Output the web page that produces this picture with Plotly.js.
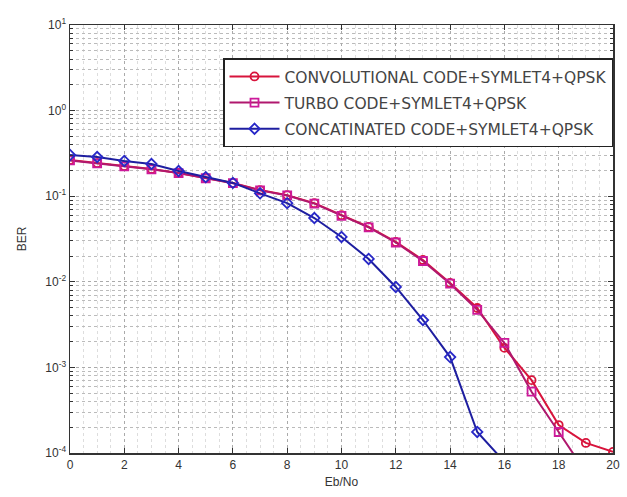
<!DOCTYPE html>
<html>
<head>
<meta charset="utf-8">
<script src="https://cdn.plot.ly/plotly-3.0.1.min.js"></script>
<style>html,body{margin:0;padding:0;background:#fff;}#chart{width:627px;height:497px;}</style>
</head>
<body>
<div id="chart"></div>
<script>
const ebno = [0,1,2,3,4,5,6,7,8,9,10,11,12,13,14,15,16,17,18,19,20];
const convBER = [0.265,0.244,0.225,0.208,0.187,0.163,0.143,0.118,0.103,0.083,0.060,0.0437,0.0292,0.018,0.0097,0.00494,0.00169,0.00071,0.000212,0.000131,0.000103];
const turboBER = [0.262,0.242,0.223,0.206,0.186,0.162,0.142,0.117,0.102,0.082,0.059,0.0432,0.0288,0.0175,0.0095,0.0047,0.00193,0.00052,0.000176,0.000057,0.00002];
const concatX = [0,1,2,3,4,5,6,7,8,9,10,11,12,13,14,15,16];
const concatBER = [0.303,0.287,0.258,0.238,0.197,0.167,0.143,0.108,0.083,0.0556,0.0334,0.0185,0.0087,0.00358,0.00132,0.000176,0.000079];
const seriesNames = ['CONVOLUTIONAL CODE+SYMLET4+QPSK','TURBO CODE+SYMLET4+QPSK','CONCATINATED CODE+SYMLET4+QPSK'];
const yTickVals = [1e-4,1e-3,1e-2,1e-1,1,10];
const yTickText = ['10<sup>-4</sup>','10<sup>-3</sup>','10<sup>-2</sup>','10<sup>-1</sup>','10<sup>0</sup>','10<sup>1</sup>'];
const xTickVals = [0,2,4,6,8,10,12,14,16,18,20];

const traces = [
  {x: ebno, y: convBER, name: seriesNames[0], mode: 'lines+markers', legendgroup: 'a',
   line: {color: '#d8143c', width: 2}, marker: {symbol: 'circle-open', size: 8, color: '#d8143c', line: {width: 1.8}}},
  {x: ebno, y: turboBER, name: seriesNames[1], mode: 'lines+markers', legendgroup: 'b',
   line: {color: '#b0186e', width: 2}, marker: {symbol: 'square-open', size: 8, color: '#cc1a9a', line: {width: 1.8}}},
  {x: concatX, y: concatBER, name: seriesNames[2], mode: 'lines+markers', legendgroup: 'c',
   line: {color: '#1e1ea0', width: 2}, marker: {symbol: 'diamond-open', size: 8, color: '#2828c8', line: {width: 1.8}}}
];

const layout = {
  width: 627, height: 497,
  margin: {l: 70, r: 14, t: 25, b: 44},
  paper_bgcolor: '#fff', plot_bgcolor: '#fff',
  font: {family: 'Liberation Sans, Arial, sans-serif', size: 12, color: '#333'},
  showlegend: true,
  legend: {x: 1.0, xanchor: 'right', y: 0.922, yanchor: 'top',
    bgcolor: '#fff', bordercolor: '#222', borderwidth: 1.5,
    font: {family: 'DejaVu Sans, sans-serif', size: 15.5, color: '#444'}, itemwidth: 50, tracegroupgap: 3},
  xaxis: {range: [0, 20], tickvals: xTickVals, ticks: 'inside', ticklen: 5, tickcolor: '#333',
    showline: true, linecolor: '#333', linewidth: 1.5, mirror: 'ticks', zeroline: false,
    showgrid: true, gridcolor: '#aaa', griddash: 'dot', gridwidth: 1,
    minor: {dtick: 0.5, showgrid: true, gridcolor: '#ddd', griddash: 'dot'},
    title: {text: 'Eb/No', font: {size: 12, color: '#333'}, standoff: 6}},
  yaxis: {type: 'log', range: [-4, 1], tickvals: yTickVals, ticktext: yTickText, ticks: 'inside', ticklen: 5, tickcolor: '#333',
    showline: true, linecolor: '#333', linewidth: 1.5, mirror: 'ticks', zeroline: false,
    showgrid: true, gridcolor: '#aaa', griddash: 'dot', gridwidth: 1,
    minor: {dtick: 'D1', ticks: 'inside', ticklen: 3, tickcolor: '#333', showgrid: true, gridcolor: '#bbb', griddash: 'dot'},
    title: {text: 'BER', font: {size: 12, color: '#333'}, standoff: 16}}
};

Plotly.newPlot('chart', traces, layout, {displayModeBar: false, staticPlot: true});
</script>
</body>
</html>
